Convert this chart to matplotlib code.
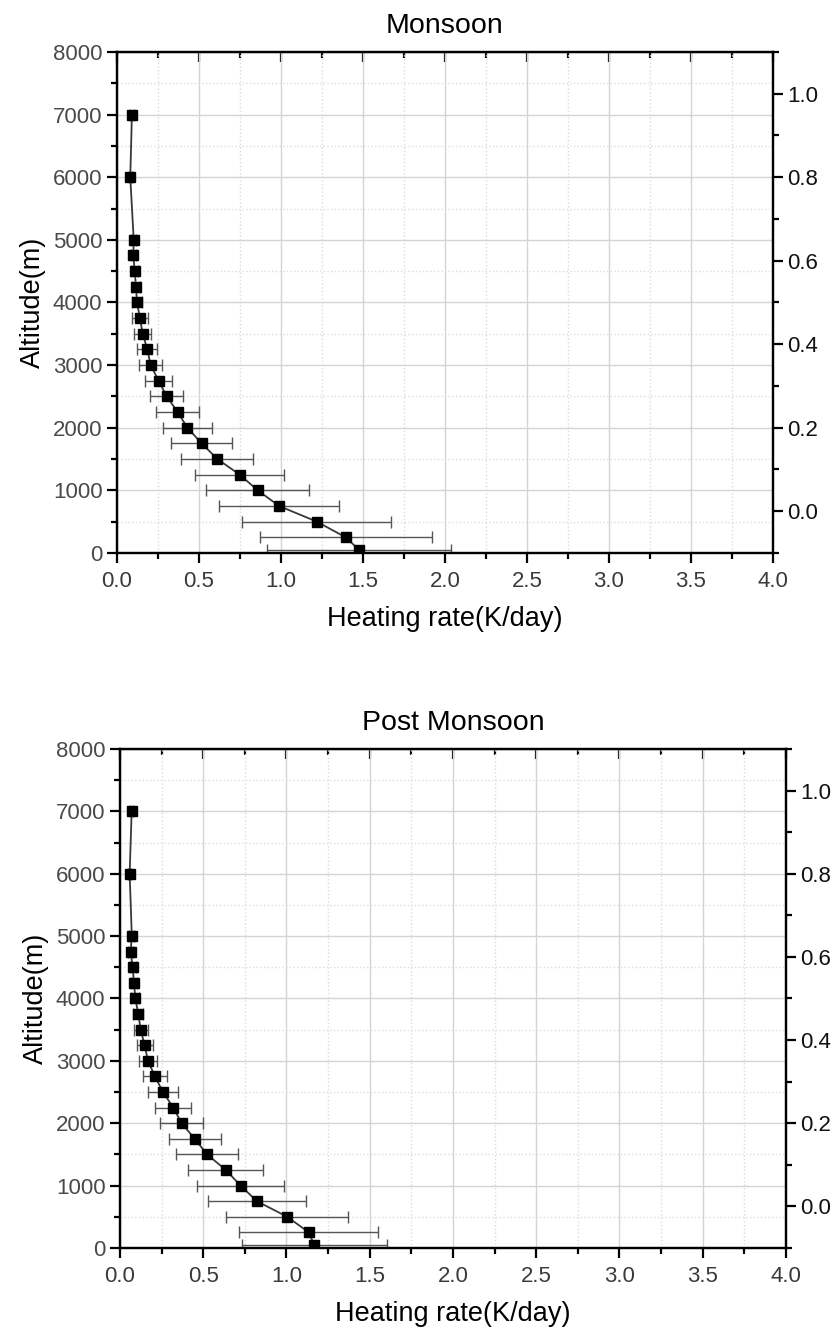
import matplotlib.pyplot as plt
from matplotlib.ticker import MultipleLocator

plt.rcParams['font.family'] = ['Liberation Sans', 'DejaVu Sans']

# altitude levels (m)
alt = [50, 250, 500, 750, 1000, 1250, 1500, 1750, 2000, 2250, 2500, 2750,
       3000, 3250, 3500, 3750, 4000, 4250, 4500, 4750, 5000, 6000, 7000]

# Monsoon heating rate (K/day) and std
hr_mon = [1.476, 1.394, 1.218, 0.988, 0.858, 0.748, 0.612, 0.516, 0.429, 0.37,
          0.303, 0.254, 0.205, 0.185, 0.157, 0.14, 0.122, 0.116, 0.108, 0.10,
          0.102, 0.081, 0.091]
err_mon = [0.561, 0.524, 0.453, 0.364, 0.313, 0.27, 0.22, 0.185, 0.149, 0.13,
           0.10, 0.083, 0.068, 0.06, 0.052, 0.047, 0.03, 0.025, 0.02, 0.015,
           0.015, 0.01, 0.01]

# Post monsoon
hr_post = [1.166, 1.134, 1.004, 0.822, 0.724, 0.636, 0.523, 0.449, 0.37, 0.32,
           0.258, 0.21, 0.168, 0.148, 0.124, 0.11, 0.092, 0.084, 0.076, 0.064,
           0.071, 0.058, 0.07]
err_post = [0.435, 0.418, 0.367, 0.295, 0.259, 0.225, 0.184, 0.155, 0.128, 0.109,
            0.088, 0.07, 0.056, 0.048, 0.042, 0.03, 0.025, 0.02, 0.018, 0.015,
            0.015, 0.01, 0.01]

fig = plt.figure(figsize=(8.38, 13.33), dpi=100)

panels = [
    ('Monsoon', hr_mon, err_mon, [0.1396, 0.5852, 0.7828, 0.3758]),
    ('Post Monsoon', hr_post, err_post, [0.1432, 0.0638, 0.7947, 0.3743]),
]

for title, hr, err, rect in panels:
    ax = fig.add_axes(rect)
    ax.errorbar(hr, alt, xerr=err, fmt='none', ecolor='#555555', elinewidth=1.0,
                capsize=4, capthick=1.0, zorder=2)
    ax.plot(hr, alt, color='#383838', linewidth=1.3, marker='s', markersize=7.5,
            markerfacecolor='black', markeredgecolor='black', zorder=3)

    ax.set_xlim(0, 4)
    ax.set_ylim(0, 8000)
    ax.xaxis.set_major_locator(MultipleLocator(0.5))
    ax.xaxis.set_minor_locator(MultipleLocator(0.25))
    ax.yaxis.set_major_locator(MultipleLocator(1000))
    ax.yaxis.set_minor_locator(MultipleLocator(500))
    ax.xaxis.set_major_formatter(plt.FormatStrFormatter('%.1f'))

    ax.grid(which='major', color='#d4d4d4', linewidth=1.0, linestyle='-')
    ax.grid(which='minor', color='#dcdcdc', linewidth=1.0, linestyle=':')
    ax.set_axisbelow(True)

    for s in ax.spines.values():
        s.set_linewidth(1.6)
        s.set_color('black')

    ax.tick_params(axis='x', which='both', direction='out', top=False,
                   labelsize=16, labelcolor='#3a3a3a', width=1.6, pad=6)
    ax.tick_params(axis='x', which='major', length=7)
    ax.tick_params(axis='x', which='minor', length=4)
    ax.tick_params(axis='y', which='both', direction='out', right=False,
                   labelsize=16, labelcolor='#4a4a4a', width=1.6)
    ax.tick_params(axis='y', which='major', length=7)
    ax.tick_params(axis='y', which='minor', length=4)

    # top ticks pointing inward
    axt = ax.secondary_xaxis('top')
    axt.xaxis.set_major_locator(MultipleLocator(0.5))
    axt.xaxis.set_minor_locator(MultipleLocator(0.25))
    axt.tick_params(which='both', direction='in', labeltop=False, width=1.6)
    axt.tick_params(which='major', length=7)
    axt.tick_params(which='minor', length=4)

    # right axis
    ax2 = ax.twinx()
    ax2.set_ylim(-0.1, 1.1)
    ax2.yaxis.set_major_locator(MultipleLocator(0.2))
    ax2.yaxis.set_minor_locator(MultipleLocator(0.1))
    ax2.yaxis.set_major_formatter(plt.FormatStrFormatter('%.1f'))
    ax2.tick_params(which='both', direction='out', labelsize=16,
                    labelcolor='#111111', width=1.6)
    ax2.tick_params(which='major', length=7)
    ax2.tick_params(which='minor', length=4)
    for s in ax2.spines.values():
        s.set_linewidth(1.6)

    ax.set_title(title, fontsize=20.5, pad=14)
    ax.set_xlabel('Heating rate(K/day)', fontsize=19.5, labelpad=10)
    ax.set_ylabel('Altitude(m)', fontsize=19.5, labelpad=5)

fig.savefig('out.png', dpi=100)
